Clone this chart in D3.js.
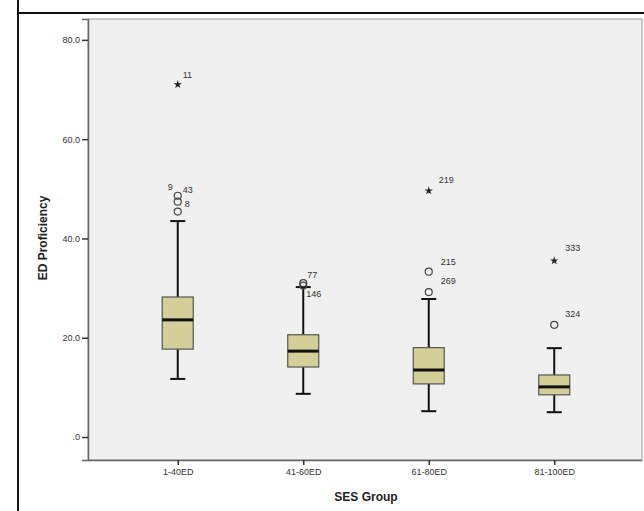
<!DOCTYPE html>
<html>
<head>
<meta charset="utf-8">
<script src="https://cdn.jsdelivr.net/npm/d3@7"></script>
<style>
  body { margin: 0; background: #fff; }
  svg { display: block; font-family: "Liberation Sans", Arial, sans-serif; }
</style>
</head>
<body>
<div id="chart"></div>
<script>
// box plot values
const groups = ['1-40ED', '41-60ED', '61-80ED', '81-100ED'];
const whiskerLow = [11.7, 8.7, 5.2, 5.0];
const q1 = [17.7, 14.1, 10.7, 8.5];
const median = [23.6, 17.3, 13.5, 10.1];
const q3 = [28.2, 20.6, 18.0, 12.5];
const whiskerHigh = [43.5, 30.2, 27.8, 17.9];

// outliers: group index, value, case id, kind (star = extreme)
const outlierGroup = [0, 0, 0, 0, 1, 1, 2, 2, 2, 3, 3];
const outlierValue = [71.0, 48.6, 47.4, 45.4, 31.0, 30.5, 49.6, 33.3, 29.2, 35.5, 22.6];
const outlierId = ['11', '43', '9', '8', '77', '146', '219', '215', '269', '333', '324'];
const outlierKind = ['star', 'circle', 'circle', 'circle', 'circle', 'circle', 'star', 'circle', 'circle', 'star', 'circle'];

const yTicks = [0, 20, 40, 60, 80];

// label nudges so the ids sit like the original
const labelDx = [5, 5, -10, 7, 4, 3, 10, 12, 12, 11, 11];
const labelDy = [-7, -3, -12, -5, -5, 11, -8, -7, -8, -10, -8];

const width = 644, height = 511;
const plot = {left: 88, right: 642, top: 19, bottom: 460};

const svg = d3.select('#chart').append('svg')
  .attr('width', width)
  .attr('height', height);

// outer frame of the output window
svg.append('line').attr('x1', 18).attr('x2', 18).attr('y1', 0).attr('y2', height)
  .attr('stroke', '#111').attr('stroke-width', 2);
svg.append('line').attr('x1', 18).attr('x2', width).attr('y1', 13).attr('y2', 13)
  .attr('stroke', '#111').attr('stroke-width', 2);

svg.append('rect')
  .attr('x', plot.left).attr('y', plot.top)
  .attr('width', plot.right - plot.left).attr('height', plot.bottom - plot.top)
  .attr('fill', '#f0f0f0').attr('stroke', '#9a9a9a').attr('stroke-width', 1);

const x = d3.scalePoint().domain(groups).range([115, 617]).padding(0.5);
const y = d3.scaleLinear().domain([-4.63, 84.2]).range([plot.bottom, plot.top]);

// y axis
const yAxis = svg.append('g')
  .attr('transform', `translate(${plot.left},0)`)
  .call(d3.axisLeft(y).tickValues(yTicks).tickSize(6).tickPadding(2)
    .tickFormat(d => d === 0 ? '.0' : d.toFixed(1)));
yAxis.select('.domain').attr('stroke', '#666').attr('stroke-width', 1.5);
yAxis.selectAll('.tick line').attr('stroke', '#333').attr('stroke-width', 1.5);
yAxis.selectAll('.tick text').attr('fill', '#333').style('font-size', '9px');

// x axis
const xAxis = svg.append('g')
  .attr('transform', `translate(0,${plot.bottom})`)
  .call(d3.axisBottom(x).tickSize(5).tickPadding(4).tickSizeOuter(0));
xAxis.select('.domain').attr('d', `M${plot.left},0.5H${plot.right}`)
  .attr('stroke', '#666').attr('stroke-width', 1.5);
xAxis.selectAll('.tick line').attr('stroke', '#333').attr('stroke-width', 1.5);
xAxis.selectAll('.tick text').attr('fill', '#333').style('font-size', '9px');

svg.append('text')
  .attr('x', 366).attr('y', 501)
  .attr('text-anchor', 'middle')
  .style('font-size', '12px').style('font-weight', 'bold').attr('fill', '#222')
  .text('SES Group');

svg.append('text')
  .attr('transform', 'translate(47,238) rotate(-90)')
  .attr('text-anchor', 'middle')
  .style('font-size', '12px').style('font-weight', 'bold').attr('fill', '#222')
  .text('ED Proficiency');

// boxes
const boxW = 31, capW = 15;
const boxes = svg.append('g').selectAll('g')
  .data(groups)
  .join('g')
  .attr('transform', d => `translate(${x(d)},0)`);

boxes.append('line')
  .attr('y1', (d, i) => y(whiskerLow[i])).attr('y2', (d, i) => y(whiskerHigh[i]))
  .attr('stroke', '#111').attr('stroke-width', 2);
boxes.append('line')
  .attr('x1', -capW / 2).attr('x2', capW / 2)
  .attr('y1', (d, i) => y(whiskerLow[i])).attr('y2', (d, i) => y(whiskerLow[i]))
  .attr('stroke', '#111').attr('stroke-width', 2);
boxes.append('line')
  .attr('x1', -capW / 2).attr('x2', capW / 2)
  .attr('y1', (d, i) => y(whiskerHigh[i])).attr('y2', (d, i) => y(whiskerHigh[i]))
  .attr('stroke', '#111').attr('stroke-width', 2);
boxes.append('rect')
  .attr('x', -boxW / 2).attr('width', boxW)
  .attr('y', (d, i) => y(q3[i]))
  .attr('height', (d, i) => y(q1[i]) - y(q3[i]))
  .attr('fill', '#d4cf99').attr('stroke', '#555').attr('stroke-width', 1.2);
boxes.append('line')
  .attr('x1', -boxW / 2).attr('x2', boxW / 2)
  .attr('y1', (d, i) => y(median[i])).attr('y2', (d, i) => y(median[i]))
  .attr('stroke', '#111').attr('stroke-width', 3);

// outliers
const outliers = outlierValue.map((v, i) => ({
  group: groups[outlierGroup[i]], value: v, id: outlierId[i], kind: outlierKind[i], i
}));
const star = d3.symbol().type(d3.symbolStar).size(22);

const marks = svg.append('g').selectAll('g')
  .data(outliers)
  .join('g')
  .attr('transform', d => `translate(${x(d.group)},${y(d.value)})`);

marks.filter(d => d.kind === 'circle').append('circle')
  .attr('r', 3.5).attr('fill', 'none').attr('stroke', '#444').attr('stroke-width', 1.2);
marks.filter(d => d.kind === 'star').append('path')
  .attr('d', star).attr('fill', '#222');
marks.append('text')
  .attr('x', d => labelDx[d.i]).attr('y', d => labelDy[d.i])
  .style('font-size', '9px').attr('fill', '#333')
  .text(d => d.id);
</script>
</body>
</html>
